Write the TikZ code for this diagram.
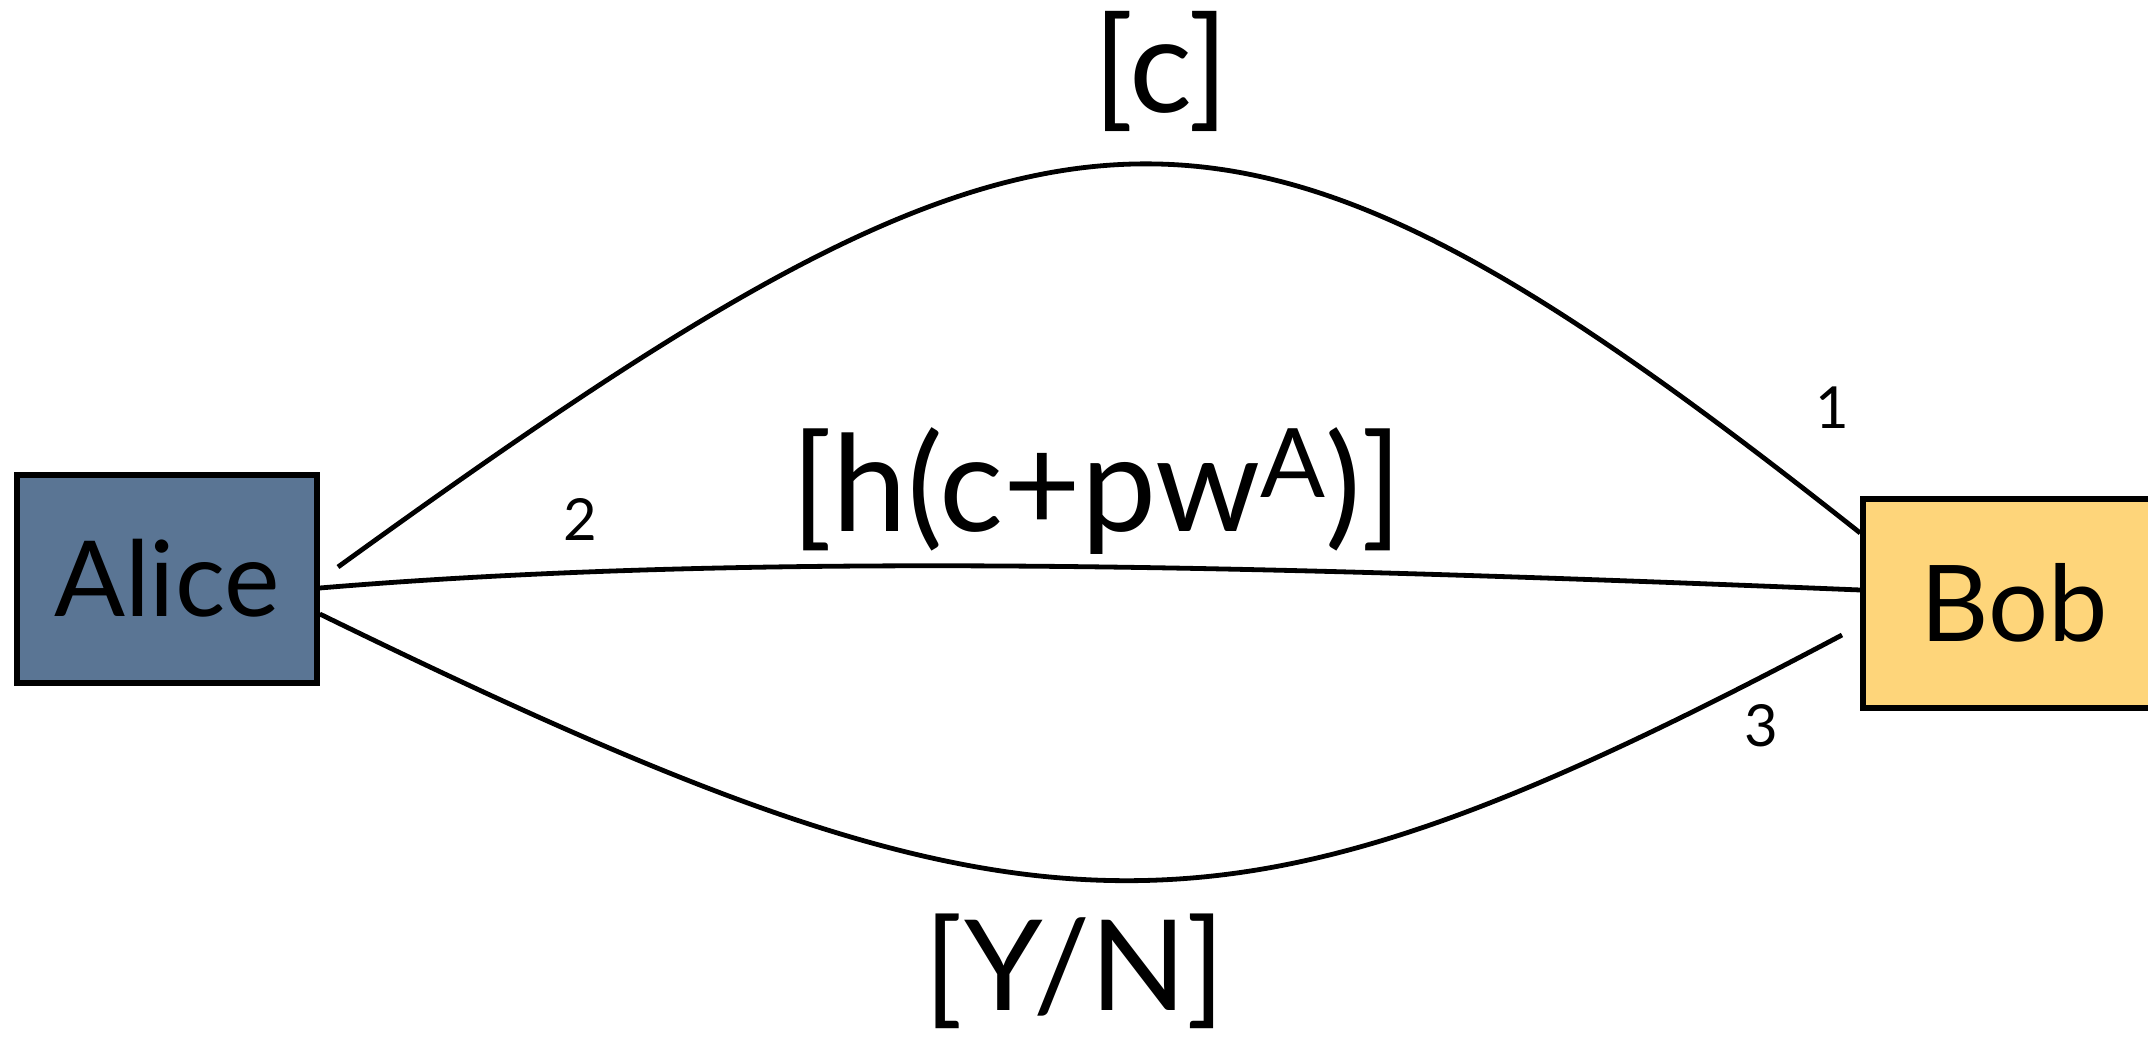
\documentclass[tikz,border=0pt]{standalone}
\usepackage{fontspec}
\setmainfont{Lato}
\definecolor{alicefill}{RGB}{90,117,148}
\definecolor{bobfill}{RGB}{254,213,122}
\begin{document}
\begin{tikzpicture}[x=0.5pt,y=-0.5pt,
  box/.style={draw=black,line width=2.8pt,inner sep=0pt,text height=38pt,text depth=0pt},
  link/.style={line width=2.4pt},
  lbl/.style={anchor=base,inner sep=0pt}]
\useasboundingbox (0,0) rectangle (2148,1037);
\clip (0,0) rectangle (2148,1037);
\node[box,fill=alicefill,minimum width=150pt,minimum height=104pt,font=\fontsize{52.5}{60}\selectfont] (Alice) at (167,579) {Alice};
\node[box,fill=bobfill,minimum width=151pt,minimum height=104.5pt,font=\fontsize{53}{60}\selectfont] (Bob) at (2014,603.5) {Bob};
\node[lbl,font=\fontsize{66}{74}\selectfont] (lc) at (1161,113) {[c]};
\node[lbl,font=\fontsize{67}{78}\selectfont] (lh) at (1097,531) {[h(c+pw\raisebox{17pt}{\fontsize{48}{54}\selectfont A})]};
\node[lbl,font=\fontsize{63}{70}\selectfont] (lyn) at (1075,1010) {[Y/N]};
\node[lbl,font=\fontsize{29}{32}\selectfont] (n1) at (1832,429) {1};
\node[lbl,font=\fontsize{29}{32}\selectfont] (n2) at (580,540) {2};
\node[lbl,font=\fontsize{29}{32}\selectfont] (n3) at (1761,746) {3};
\coordinate (topstart) at (338,567);
\coordinate (botend) at (1842,635);
\draw[link] (topstart) .. controls (1060,45) and (1220,26) .. ([yshift=35.25pt]Bob.west);
\draw[link] ([yshift=-4.5pt]Alice.east) .. controls (750,552) and (1250,565) .. ([yshift=6.75pt]Bob.west);
\draw[link] ([yshift=-17.5pt]Alice.east) .. controls (1041,966) and (1217,966) .. (botend);
\end{tikzpicture}
\end{document}
